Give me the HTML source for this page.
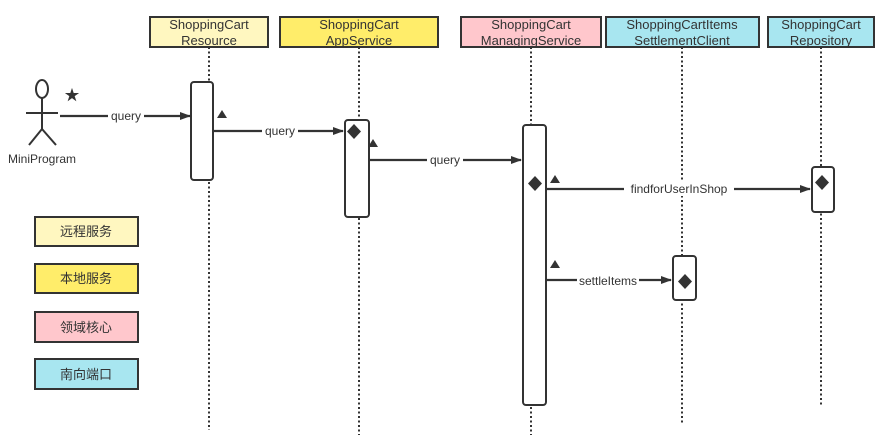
<!DOCTYPE html>
<html><head><meta charset="utf-8"><style>
html,body{margin:0;padding:0;background:#fff;}
svg{display:block;}
text{font-family:"Liberation Sans","Noto Sans CJK SC",sans-serif;fill:#333;}
</style></head><body>
<svg width="888" height="436" viewBox="0 0 888 436" xmlns="http://www.w3.org/2000/svg">
<defs><marker id="ar" markerWidth="11" markerHeight="8" refX="10" refY="4" orient="auto" markerUnits="userSpaceOnUse"><path d="M0,0 L11,4 L0,8 Z" fill="#333"/></marker></defs>
<g stroke="#333" stroke-width="2" stroke-dasharray="2,2.5">
<line x1="209" y1="47" x2="209" y2="430"/>
<line x1="359" y1="47" x2="359" y2="435"/>
<line x1="531" y1="47" x2="531" y2="435"/>
<line x1="682" y1="47" x2="682" y2="425"/>
<line x1="821" y1="47" x2="821" y2="405"/>
</g>
<g stroke="#333" stroke-width="2">
<rect x="150" y="17" width="118" height="30" fill="#fff7c0"/>
<rect x="280" y="17" width="158" height="30" fill="#ffed6a"/>
<rect x="461" y="17" width="140" height="30" fill="#ffc7cc"/>
<rect x="606" y="17" width="153" height="30" fill="#a8e6f0"/>
<rect x="768" y="17" width="106" height="30" fill="#a8e6f0"/>
</g>
<g font-size="13" text-anchor="middle">
<text x="209" y="29">ShoppingCart</text><text x="209" y="45">Resource</text>
<text x="359" y="29">ShoppingCart</text><text x="359" y="45">AppService</text>
<text x="531" y="29">ShoppingCart</text><text x="531" y="45">ManagingService</text>
<text x="682" y="29">ShoppingCartItems</text><text x="682" y="45">SettlementClient</text>
<text x="821" y="29">ShoppingCart</text><text x="821" y="45">Repository</text>
</g>
<g stroke="#333" stroke-width="2" fill="#fff">
<rect x="191" y="82" width="22" height="98" rx="3"/>
<rect x="345" y="120" width="24" height="97" rx="3"/>
<rect x="523" y="125" width="23" height="280" rx="3"/>
<rect x="812" y="167" width="22" height="45" rx="3"/>
<rect x="673" y="256" width="23" height="44" rx="3"/>
</g>
<g fill="#333">
<path d="M354,124 L361,131.5 L354,139 L347,131.5 Z"/>
<path d="M535,176 L542,183.5 L535,191 L528,183.5 Z"/>
<path d="M822,175 L829,182.5 L822,190 L815,182.5 Z"/>
<path d="M685,274 L692,281.5 L685,289 L678,281.5 Z"/>
<path d="M222,110 L227,118 L217,118 Z"/>
<path d="M373,139 L378,147 L368,147 Z"/>
<path d="M555,175 L560,183 L550,183 Z"/>
<path d="M555,260 L560,268 L550,268 Z"/>
</g>
<text x="72" y="100" font-size="15" text-anchor="middle">★</text>
<g stroke="#333" stroke-width="2" fill="none">
<ellipse cx="42" cy="89" rx="6" ry="9"/>
<line x1="42" y1="98" x2="42" y2="129"/>
<line x1="26" y1="113" x2="58" y2="113"/>
<line x1="42" y1="129" x2="29" y2="145"/>
<line x1="42" y1="129" x2="56" y2="145"/>
</g>
<text x="42" y="163" font-size="12" text-anchor="middle">MiniProgram</text>
<g stroke="#333" stroke-width="2.2" fill="none" marker-end="url(#ar)">
<line x1="60" y1="116" x2="190" y2="116"/>
<line x1="214" y1="131" x2="343" y2="131"/>
<line x1="369" y1="160" x2="521" y2="160"/>
<line x1="546" y1="189" x2="810" y2="189"/>
<line x1="546" y1="280" x2="671" y2="280"/>
</g>
<g font-size="12" text-anchor="middle">
<rect x="108" y="108" width="36" height="15" fill="#fff"/><text x="126" y="120">query</text>
<rect x="262" y="123" width="36" height="15" fill="#fff"/><text x="280" y="135">query</text>
<rect x="427" y="152" width="36" height="15" fill="#fff"/><text x="445" y="164">query</text>
<rect x="624" y="181" width="110" height="15" fill="#fff"/><text x="679" y="193">findforUserInShop</text>
<rect x="577" y="272" width="62" height="15" fill="#fff"/><text x="608" y="285">settleItems</text>
</g>
<g stroke="#333" stroke-width="2">
<rect x="35" y="217" width="103" height="29" fill="#fff7c0"/>
<rect x="35" y="264" width="103" height="29" fill="#ffed6a"/>
<rect x="35" y="312" width="103" height="30" fill="#ffc7cc"/>
<rect x="35" y="359" width="103" height="30" fill="#a8e6f0"/>
</g>
<g font-size="13" text-anchor="middle">
<text x="86" y="236">远程服务</text>
<text x="86" y="283">本地服务</text>
<text x="86" y="332">领域核心</text>
<text x="86" y="379">南向端口</text>
</g>
</svg>
</body></html>
